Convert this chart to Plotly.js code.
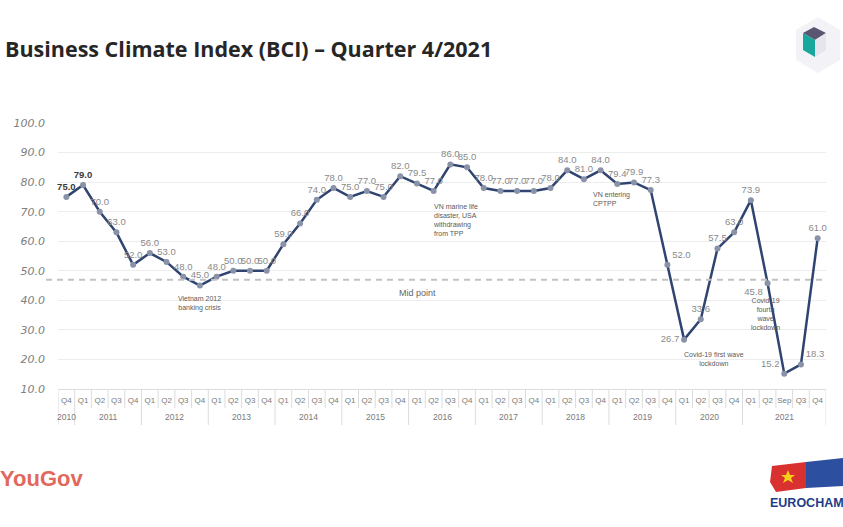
<!DOCTYPE html>
<html>
<head>
<meta charset="utf-8">
<script src="https://cdn.plot.ly/plotly-3.0.1.min.js"></script>
<style>
html,body{margin:0;padding:0;background:#fff;}
#chart{width:843px;height:527px;}
</style>
</head>
<body>
<div id="chart"></div>
<script>
// ---- data ----
const years = ['2010',
  '2011','2011','2011','2011',
  '2012','2012','2012','2012',
  '2013','2013','2013','2013',
  '2014','2014','2014','2014',
  '2015','2015','2015','2015',
  '2016','2016','2016','2016',
  '2017','2017','2017','2017',
  '2018','2018','2018','2018',
  '2019','2019','2019','2019',
  '2020','2020','2020','2020',
  '2021','2021','2021','2021','2021'];
const quarters = ['Q4',
  'Q1','Q2','Q3','Q4',
  'Q1','Q2','Q3','Q4',
  'Q1','Q2','Q3','Q4',
  'Q1','Q2','Q3','Q4',
  'Q1','Q2','Q3','Q4',
  'Q1','Q2','Q3','Q4',
  'Q1','Q2','Q3','Q4',
  'Q1','Q2','Q3','Q4',
  'Q1','Q2','Q3','Q4',
  'Q1','Q2','Q3','Q4',
  'Q1','Q2','Sep','Q3','Q4'];
const bci = [75.0,
  79.0,70.0,63.0,52.0,
  56.0,53.0,48.0,45.0,
  48.0,50.0,50.0,50.0,
  59.0,66.0,74.0,78.0,
  75.0,77.0,75.0,82.0,
  79.5,77.0,86.0,85.0,
  78.0,77.0,77.0,77.0,
  78.0,84.0,81.0,84.0,
  79.4,79.9,77.3,52.0,
  26.7,33.6,57.5,63.0,
  73.9,45.8,15.2,18.3,61.0];
const midPoint = 47;
const events = [
  {i: 8,  text: 'Vietnam 2012<br>banking crisis'},
  {i: 22, text: 'VN marine life<br>disaster, USA<br>withdrawing<br>from TPP'},
  {i: 33, text: 'VN entering<br>CPTPP'},
  {i: 37, text: 'Covid-19 first wave<br>lockdown'},
  {i: 42, text: 'Covid-19<br>fourth<br>wave<br>lockdown'}
];
const titleText = 'Business Climate Index (BCI) – Quarter 4/2021';

// ---- layout helpers ----
const L = 58, R = 826, T = 123, B = 389, W = 843, H = 527;
const px = x => (x - L) / (R - L);
const py = y => (B - y) / (B - T);

const idx = bci.map((_, i) => i);
const labelPos = {36: 'top right', 37: 'middle left', 42: 'bottom left', 43: 'top left', 44: 'top right'};
const textPositions = idx.map(i => labelPos[i] || 'top center');
const labels = bci.map((v, i) => i < 2 ? '<b>' + v.toFixed(1) + '</b>' : v.toFixed(1));
const labelColors = idx.map(i => i < 2 ? '#3a3a3a' : '#8a8a8a');

const trace = {
  x: idx, y: bci, type: 'scatter', mode: 'lines+markers+text',
  line: {color: '#2f4470', width: 2.5},
  marker: {size: 6, color: '#8a92a8'},
  text: labels, textposition: textPositions,
  textfont: {family: 'Liberation Sans, Arial, sans-serif', size: 9.5, color: labelColors},
  cliponaxis: false, hoverinfo: 'skip', showlegend: false
};

const shapes = [];
// midpoint dashed line
shapes.push({type: 'line', xref: 'paper', yref: 'y', x0: px(46), x1: px(822), y0: midPoint, y1: midPoint,
  line: {color: '#c2c2c2', width: 2, dash: '6px,5px'}});
// table dividers below the x axis
for (let i = -1; i < bci.length; i++) {
  const isYear = i === -1 || i === bci.length - 1 || years[i] !== years[i + 1];
  shapes.push({type: 'line', xref: 'x', yref: 'paper', x0: i + 0.5, x1: i + 0.5,
    y0: 0, y1: py(isYear ? 425 : 408), line: {color: '#dcdcdc', width: 1}});
}
// cube icon (top right)
const pathFrom = pts => 'M ' + pts.map(p => px(p[0]) + ' ' + py(p[1])).join(' L ') + ' Z';
shapes.push({type: 'path', xref: 'paper', yref: 'paper', path: pathFrom([[818,17],[840,30],[840,60],[818,73],[796,60],[796,30]]),
  fillcolor: '#f3f2f6', line: {width: 0}});
shapes.push({type: 'path', xref: 'paper', yref: 'paper', path: pathFrom([[803,33],[814,27],[826,33],[815,40]]),
  fillcolor: '#5a5570', line: {width: 0}});
shapes.push({type: 'path', xref: 'paper', yref: 'paper', path: pathFrom([[803,33],[815,40],[815,57],[803,50]]),
  fillcolor: '#19a79c', line: {width: 0}});
shapes.push({type: 'path', xref: 'paper', yref: 'paper', path: pathFrom([[815,40],[826,33],[826,50],[815,57]]),
  fillcolor: '#e6e4ec', line: {width: 0}});
// Eurocham flag strokes
shapes.push({type: 'path', xref: 'paper', yref: 'paper', path: pathFrom([[772,466],[806,462],[806,488],[776,492],[770,482]]),
  fillcolor: '#d9312f', line: {width: 0}});
shapes.push({type: 'path', xref: 'paper', yref: 'paper', path: pathFrom([[806,462],[843,458],[843,486],[806,488]]),
  fillcolor: '#2c4fa0', line: {width: 0}});
shapes.push({type: 'path', xref: 'paper', yref: 'paper', path: pathFrom([[788,470],[790,475],[795,475],[791,478],[793,483],[788,480],[783,483],[785,478],[781,475],[786,475]]),
  fillcolor: '#f7d117', line: {width: 0}});

const annotations = [];
annotations.push({xref: 'paper', yref: 'paper', x: px(3), y: py(48), xanchor: 'left', yanchor: 'middle',
  text: '<b>' + titleText + '</b>', showarrow: false,
  font: {family: 'Open Sans, Liberation Sans, sans-serif', size: 21.5, color: '#262626'}});
annotations.push({xref: 'paper', yref: 'y', x: px(417), y: midPoint, yanchor: 'top', yshift: -6,
  text: 'Mid point', showarrow: false, font: {family: 'Liberation Sans, Arial, sans-serif', size: 9, color: '#666'}});
// year labels
const yearGroups = {};
years.forEach((y, i) => { (yearGroups[y] = yearGroups[y] || []).push(i); });
Object.keys(yearGroups).forEach(y => {
  const g = yearGroups[y];
  annotations.push({xref: 'x', yref: 'paper', x: (g[0] + g[g.length - 1]) / 2, y: py(417), yanchor: 'middle',
    text: y, showarrow: false, font: {family: 'Liberation Sans, Arial, sans-serif', size: 8.5, color: '#7a7a7a'}});
});
// events
const evStyle = {
  8:  {xanchor: 'center', xshift: 0, yshift: -7, align: 'center'},
  22: {xanchor: 'left', xshift: -3, yshift: -10, align: 'left'},
  33: {xanchor: 'center', xshift: -6, yshift: -5, align: 'left'},
  37: {xanchor: 'left', xshift: -2, yshift: -9, align: 'center'},
  42: {xanchor: 'center', xshift: -2, yshift: -12, align: 'center'}
};
events.forEach(e => {
  const s = evStyle[e.i];
  annotations.push({xref: 'x', yref: 'y', x: e.i, y: bci[e.i], yanchor: 'top', xanchor: s.xanchor,
    xshift: s.xshift, yshift: s.yshift, align: s.align, text: e.text, showarrow: false,
    font: {family: 'Liberation Sans, Arial, sans-serif', size: 7, color: '#5a5a5a'}});
});
// logos as text
annotations.push({xref: 'paper', yref: 'paper', x: px(-2), y: py(478), xanchor: 'left', yanchor: 'middle',
  text: '<b>YouGov</b>', showarrow: false, font: {family: 'Liberation Sans, Arial, sans-serif', size: 22, color: '#e2685d'}});
annotations.push({xref: 'paper', yref: 'paper', x: px(768), y: py(503), xanchor: 'left', yanchor: 'middle',
  text: '<b>EUROCHAM</b>', showarrow: false, font: {family: 'Liberation Sans, Arial, sans-serif', size: 12.5, color: '#1f3c88'}});

const layout = {
  width: W, height: H,
  margin: {l: L, r: W - R, t: T, b: H - B},
  paper_bgcolor: '#fff', plot_bgcolor: '#fff',
  showlegend: false,
  xaxis: {
    range: [-0.5, bci.length - 0.5], tickvals: idx, ticktext: quarters, tickangle: 0,
    showgrid: false, zeroline: false, showline: true, linecolor: '#dcdcdc', linewidth: 1,
    ticks: '', ticklabelstandoff: 3,
    tickfont: {family: 'Liberation Sans, Arial, sans-serif', size: 8, color: '#7a7a7a'}, fixedrange: true
  },
  yaxis: {
    range: [10, 100], dtick: 10, tick0: 10, tickformat: '.1f',
    showgrid: true, gridcolor: '#ededed', zeroline: false, showline: false,
    ticks: '', ticklabelstandoff: 12,
    tickfont: {family: 'DejaVu Sans, sans-serif', size: 11, color: '#808080', style: 'italic'}, fixedrange: true
  },
  shapes: shapes, annotations: annotations
};

Plotly.newPlot('chart', [trace], layout, {displayModeBar: false, staticPlot: true});
</script>
</body>
</html>
